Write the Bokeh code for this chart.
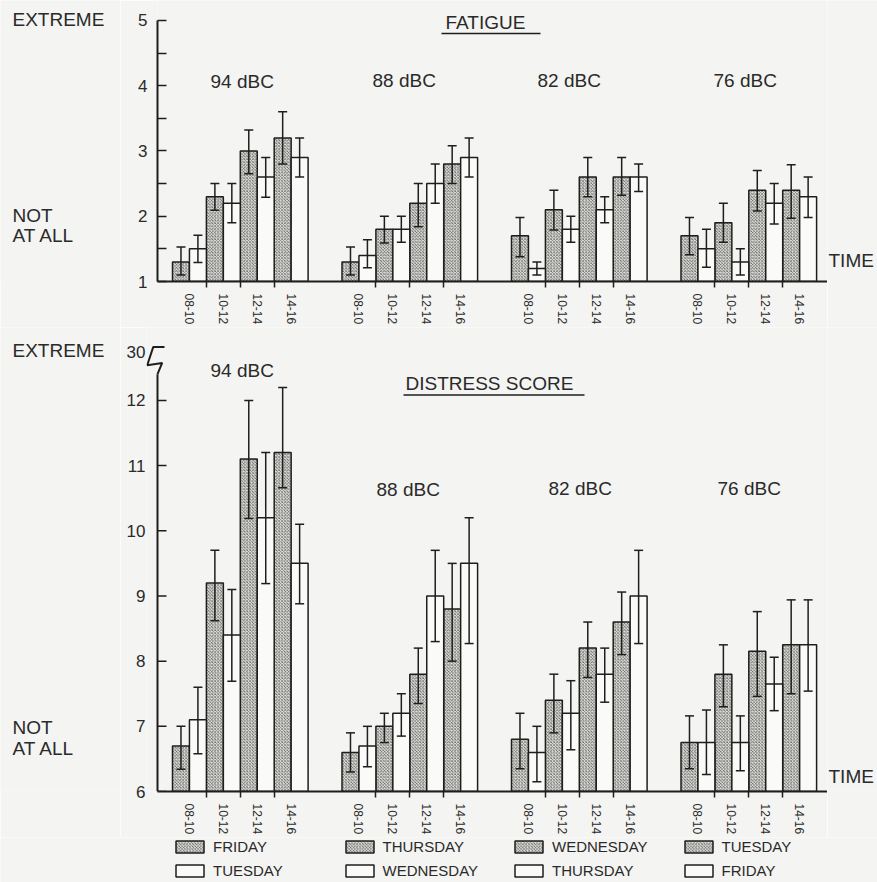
from bokeh.plotting import figure
from bokeh.models import (Range1d, FixedTicker, ColumnDataSource, Whisker, TeeHead, Label,
                          Legend, LegendItem)
from bokeh.layouts import column, row
from bokeh.embed import file_html
from bokeh.resources import INLINE
from bokeh.core.properties import value

# ---------------- data ----------------
groups = ["94 dBC", "88 dBC", "82 dBC", "76 dBC"]
times = ["08-10", "10-12", "12-14", "14-16"]
hatched_days = ["FRIDAY", "THURSDAY", "WEDNESDAY", "TUESDAY"]
open_days = ["TUESDAY", "WEDNESDAY", "THURSDAY", "FRIDAY"]

# FATIGUE (1 = not at all, 5 = extreme); 4 groups x 4 time slots
fatigue_hatched    = [1.3, 2.3, 3.0, 3.2,   1.3, 1.8, 2.2, 2.8,   1.7, 2.1, 2.6, 2.6,   1.7, 1.9, 2.4, 2.4]
fatigue_hatched_hi = [1.53, 2.5, 3.32, 3.6, 1.53, 2.0, 2.5, 3.08, 1.98, 2.4, 2.9, 2.9, 1.98, 2.2, 2.7, 2.79]
fatigue_hatched_lo = [1.1, 2.09, 2.65, 2.8,  1.1, 1.59, 1.84, 2.5, 1.38, 1.79, 2.3, 2.32, 1.41, 1.6, 2.08, 1.97]
fatigue_open       = [1.5, 2.2, 2.6, 2.9,   1.4, 1.8, 2.5, 2.9,   1.2, 1.8, 2.1, 2.6,   1.5, 1.3, 2.2, 2.3]
fatigue_open_hi    = [1.71, 2.5, 2.9, 3.2,  1.64, 2.0, 2.8, 3.2,  1.3, 2.0, 2.3, 2.8,   1.8, 1.5, 2.5, 2.6]
fatigue_open_lo    = [1.29, 1.9, 2.29, 2.6, 1.21, 1.6, 2.2, 2.6,  1.1, 1.6, 1.9, 2.38,  1.22, 1.1, 1.88, 1.98]

# DISTRESS SCORE (6 = not at all ... 30 = extreme, axis broken above 12)
distress_hatched    = [6.7, 9.2, 11.1, 11.2,  6.6, 7.0, 7.8, 8.8,  6.8, 7.4, 8.2, 8.6,   6.75, 7.8, 8.15, 8.25]
distress_hatched_hi = [7.0, 9.7, 12.0, 12.2,  6.9, 7.2, 8.2, 9.5,  7.2, 7.8, 8.6, 9.06,  7.16, 8.25, 8.76, 8.94]
distress_hatched_lo = [6.34, 8.62, 10.19, 10.66, 6.3, 6.75, 7.35, 8.0, 6.35, 6.9, 7.75, 8.1, 6.35, 7.3, 7.46, 7.5]
distress_open       = [7.1, 8.4, 10.2, 9.5,   6.7, 7.2, 9.0, 9.5,  6.6, 7.2, 7.8, 9.0,   6.75, 6.75, 7.65, 8.25]
distress_open_hi    = [7.6, 9.1, 11.2, 10.1,  7.0, 7.5, 9.7, 10.2, 7.0, 7.7, 8.2, 9.7,   7.25, 7.16, 8.06, 8.94]
distress_open_lo    = [6.58, 7.69, 9.19, 8.88, 6.38, 6.85, 8.3, 8.27, 6.15, 6.64, 7.37, 8.27, 6.26, 6.32, 7.24, 7.54]

fatigue_ticks = [1, 2, 3, 4, 5]
fatigue_minor = [1.5, 2.5, 3.5, 4.5]
distress_ticks = [6, 7, 8, 9, 10, 11, 12]
distress_break_tick = 12.74      # axis position of the "30" (extreme) label above the break
distress_break_label = "30"

# ---------------- style / layout ----------------
FONT = "Liberation Sans"
BG = "#f4f4f2"
TXT = "#2a2a2a"
INK = "#1e1e1e"
SLOT_PX = 33.9          # pixels per time slot
GROUP_STEP = 5          # slots per dBC group (4 + gap)
LEFT_W, MAIN_W, RIGHT_W = 120, 707, 50
TOP_H, BOT_H, LEG_H = 327, 510, 45

HATCH = dict(fill_color="#deded9", hatch_pattern="diagonal_cross", hatch_scale=3.2,
             hatch_color="#5e5e5e", hatch_weight=0.8, line_color=INK, line_width=1.5)
OPEN = dict(fill_color="#fafaf8", line_color=INK, line_width=1.5)

slot_base = [g * GROUP_STEP + s for g in range(4) for s in range(4)]
x_hatched = [b + 0.25 for b in slot_base]
x_open = [b + 0.75 for b in slot_base]
label_pos = [b + 0.5 for b in slot_base]
bounds = [g * GROUP_STEP + s for g in range(4) for s in (1, 2, 3)]

AXIS_X = -15 / SLOT_PX               # y-axis line position (in slot units)
X_END = 655 / SLOT_PX


def sx(rx):   # layout helper: page pixel column -> slot units
    return (rx - 172) / SLOT_PX


def text_fig(w, h):
    return figure(width=w, height=h, x_range=Range1d(0, w), y_range=Range1d(h, 0),
                  output_backend="svg", toolbar_location=None, x_axis_type=None,
                  y_axis_type=None, min_border=0, background_fill_color=BG,
                  border_fill_color=BG, outline_line_color=None)


def txt(p, x, y, text, size, align="left"):
    p.add_layout(Label(x=x, y=y, text=text, text_font=FONT, text_font_size=size,
                       text_color=TXT, text_align=align, text_baseline="middle"))


def make_fig(height, x0, y0, y1, left, bottom):
    p = figure(width=MAIN_W, height=height, x_range=Range1d(x0, X_END), y_range=Range1d(y0, y1),
               output_backend="svg", toolbar_location=None,
               min_border_left=left, min_border_right=0, min_border_top=0,
               min_border_bottom=bottom,
               background_fill_color=BG, border_fill_color=BG, outline_line_color=None)
    p.grid.visible = False
    xa = p.xaxis[0]
    xa.ticker = FixedTicker(ticks=label_pos, minor_ticks=bounds)
    xa.major_label_overrides = {lp: times[i % 4] for i, lp in enumerate(label_pos)}
    xa.bounds = (AXIS_X, X_END)
    xa.major_tick_in = 0
    xa.major_tick_out = 0
    xa.minor_tick_in = 0
    xa.minor_tick_out = 6
    xa.minor_tick_line_width = 1.5
    xa.minor_tick_line_color = INK
    xa.axis_line_width = 2
    xa.axis_line_color = INK
    xa.major_label_orientation = "vertical"
    xa.major_label_text_font = FONT
    xa.major_label_text_font_size = "12px"
    xa.major_label_text_color = TXT
    xa.major_label_standoff = 6
    ya = p.yaxis[0]
    ya.major_label_text_font = FONT
    ya.major_label_text_font_size = "17px"
    ya.major_label_text_color = TXT
    return p


def add_bars(p, base, hv, hhi, hlo, ov, ohi, olo):
    hs = ColumnDataSource(dict(x=x_hatched, top=hv, hi=hhi, lo=hlo))
    os_ = ColumnDataSource(dict(x=x_open, top=ov, hi=ohi, lo=olo))
    p.vbar(x="x", top="top", bottom=base, width=0.5, source=hs, **HATCH)
    p.vbar(x="x", top="top", bottom=base, width=0.5, source=os_, **OPEN)
    for src in (hs, os_):
        p.add_layout(Whisker(source=src, base="x", upper="hi", lower="lo",
                             line_color=INK, line_width=1.5, level="annotation",
                             upper_head=TeeHead(size=9, line_color=INK, line_width=1.5),
                             lower_head=TeeHead(size=9, line_color=INK, line_width=1.5)))


# ---------------- top: FATIGUE ----------------
U1 = 65.5
def fy(ry):
    return 1 + (282 - ry) / U1

p1 = make_fig(TOP_H, AXIS_X, 1, fy(0), 37, 45)
ya = p1.yaxis[0]
ya.ticker = FixedTicker(ticks=fatigue_ticks, minor_ticks=fatigue_minor)
ya.bounds = (1, 5)
ya.major_tick_in = 9
ya.major_tick_out = 0
ya.minor_tick_in = 9
ya.minor_tick_out = 0
ya.major_tick_line_width = 1.5
ya.minor_tick_line_width = 1.5
ya.major_tick_line_color = INK
ya.minor_tick_line_color = INK
ya.axis_line_width = 2
ya.axis_line_color = INK
ya.major_label_standoff = 10

add_bars(p1, 1, fatigue_hatched, fatigue_hatched_hi, fatigue_hatched_lo,
         fatigue_open, fatigue_open_hi, fatigue_open_lo)
txt(p1, sx(445), fy(22.5), "FATIGUE", "19px")
p1.segment(x0=sx(441), y0=fy(33), x1=sx(540), y1=fy(33), line_color=INK, line_width=1.5)
for rx, ry, name in zip([210, 372, 537, 713], [81, 80, 80, 80], groups):
    txt(p1, sx(rx), fy(ry), name, "19px")

leftA = text_fig(LEFT_W, TOP_H)
txt(leftA, 12, 22.5, "EXTREME", "19px")
txt(leftA, 12, 250, "NOT", "19px")
txt(leftA, 12, 274, "AT ALL", "19px")
rightA = text_fig(RIGHT_W, TOP_H)
txt(rightA, 1, 302, "TIME", "19px")

# ---------------- bottom: DISTRESS SCORE ----------------
U2 = 65.6
def dy(ry):
    return 6 + (794 - ry) / U2

p2 = make_fig(BOT_H, sx(146), 6, dy(TOP_H), 26, 43)
ya = p2.yaxis[0]
ya.ticker = FixedTicker(ticks=distress_ticks + [distress_break_tick])
ya.major_label_overrides = {distress_break_tick: distress_break_label}
ya.axis_line_color = None
ya.major_tick_in = 0
ya.major_tick_out = 0
ya.minor_tick_in = 0
ya.minor_tick_out = 0
ya.major_label_standoff = 1

# broken y-axis line, its ticks and the break mark
p2.segment(x0=AXIS_X, y0=6, x1=AXIS_X, y1=dy(374), line_color=INK, line_width=2)
p2.segment(x0=[AXIS_X] * len(distress_ticks), y0=distress_ticks,
           x1=[AXIS_X + 9 / SLOT_PX] * len(distress_ticks), y1=distress_ticks,
           line_color=INK, line_width=1.5)
brk_x = [sx(v) for v in (164, 152.7, 146.7, 161.7, 157)]
brk_y = [dy(v) for v in (346.7, 346.7, 365, 362.7, 374)]
p2.line(brk_x, brk_y, line_color=INK, line_width=2)

add_bars(p2, 6, distress_hatched, distress_hatched_hi, distress_hatched_lo,
         distress_open, distress_open_hi, distress_open_lo)
txt(p2, sx(210), dy(370), groups[0], "19px")
txt(p2, sx(405), dy(383), "DISTRESS SCORE", "19px")
p2.segment(x0=sx(403), y0=dy(395), x1=sx(584), y1=dy(395), line_color=INK, line_width=1.5)
for rx, ry, name in zip([376, 548, 717], [490, 489, 489], groups[1:]):
    txt(p2, sx(rx), dy(ry), name, "19px")

leftB = text_fig(LEFT_W, BOT_H)
txt(leftB, 12, 352 - TOP_H, "EXTREME", "19px")
txt(leftB, 12, 767 - TOP_H, "NOT", "19px")
txt(leftB, 12, 790 - TOP_H, "AT ALL", "19px")
rightB = text_fig(RIGHT_W, BOT_H)
txt(rightB, 1, 820 - TOP_H, "TIME", "19px")

# ---------------- legend strip ----------------
p3 = text_fig(LEFT_W + MAIN_W + RIGHT_W, LEG_H)
# zero-size proxies that only lend their style to the legend swatches
rh = p3.vbar(x=[0], top=[0], bottom=0, width=0, **HATCH)
ro = p3.vbar(x=[0], top=[0], bottom=0, width=0, **OPEN)
for g in range(4):
    lg = Legend(items=[LegendItem(label=value(hatched_days[g]), renderers=[rh]),
                       LegendItem(label=value(open_days[g]), renderers=[ro])],
                location=(172 + g * GROUP_STEP * SLOT_PX, 3), orientation="vertical",
                border_line_color=None, background_fill_alpha=0, padding=0, margin=0,
                spacing=7, glyph_width=35, glyph_height=15, label_height=15,
                label_standoff=6, label_text_font=FONT, label_text_font_size="15px",
                label_text_color=TXT)
    p3.add_layout(lg)

layout = column(row(leftA, p1, rightA), row(leftB, p2, rightB), p3)
open("out.html", "w").write(file_html(layout, INLINE))
